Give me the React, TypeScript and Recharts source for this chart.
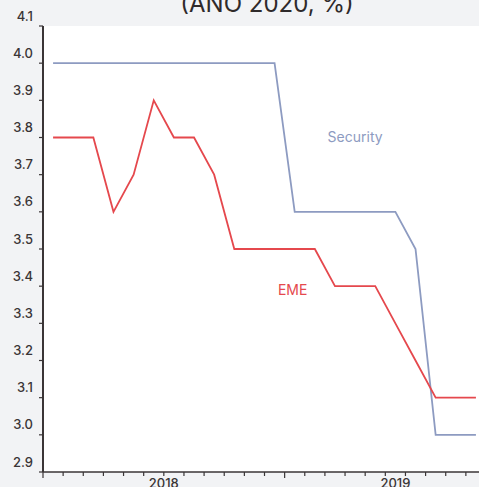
import React from "react";
import { LineChart, Line, XAxis, YAxis, CartesianGrid, ReferenceDot } from "recharts";

const months = [
  "2017-07", "2017-08", "2017-09", "2017-10", "2017-11", "2017-12",
  "2018-01", "2018-02", "2018-03", "2018-04", "2018-05", "2018-06",
  "2018-07", "2018-08", "2018-09", "2018-10", "2018-11", "2018-12",
  "2019-01", "2019-02", "2019-03", "2019-04",
];
const security = [4.0, 4.0, 4.0, 4.0, 4.0, 4.0, 4.0, 4.0, 4.0, 4.0, 4.0, 4.0, 3.6, 3.6, 3.6, 3.6, 3.6, 3.6, 3.5, 3.0, 3.0, 3.0];
const eme = [3.8, 3.8, 3.8, 3.6, 3.7, 3.9, 3.8, 3.8, 3.7, 3.5, 3.5, 3.5, 3.5, 3.5, 3.4, 3.4, 3.4, 3.3, 3.2, 3.1, 3.1, 3.1];
const yTicks = [2.9, 3.0, 3.1, 3.2, 3.3, 3.4, 3.5, 3.6, 3.7, 3.8, 3.9, 4.0, 4.1];
const yearLabels: Record<number, string> = { 6: "2018", 18: "2019" };

const data = months.map((m, i) => ({ month: m, x: i + 0.5, security: security[i], eme: eme[i] }));
const xTicks = months.map((_, i) => i).concat(months.length);

const FONT = "Inter, 'Open Sans', sans-serif";
const AXIS = "#3a3536";
const BG = "#f2f3f5";
const SEC = "#8d9bc1";
const RED = "#e5484d";

function YTick(props: any) {
  const { x, y, payload } = props;
  return (
    <text x={x - 6} y={y - 10} dy="0.35em" textAnchor="end" fontSize={13} fontWeight={500} fill={AXIS} fontFamily={FONT}>
      {Number(payload.value).toFixed(1)}
    </text>
  );
}

function XTick(props: any) {
  const { x, y, payload } = props;
  const k = payload.value;
  const len = k % 12 === 0 ? 6 : 4;
  // the 2019 label sits a little left of its tick in the original
  const shift = k === 18 ? -10 : 0;
  return (
    <g>
      <line x1={x} x2={x} y1={y} y2={y + len} stroke={AXIS} strokeWidth={1.2} />
      {yearLabels[k] && (
        <text x={x + shift} y={y + 16} textAnchor="middle" fontSize={13} fontWeight={500} fill={AXIS} fontFamily={FONT}>
          {yearLabels[k]}
        </text>
      )}
    </g>
  );
}

export default function App() {
  return (
    <div style={{ position: "absolute", left: 0, top: 0, width: 479, height: 487, overflow: "hidden", background: BG }}>
      <div
        style={{
          position: "absolute",
          left: 0,
          width: 534,
          top: -10,
          textAlign: "center",
          fontFamily: FONT,
          fontSize: 24,
          lineHeight: "28px",
          color: "#2f2a2b",
        }}
      >
        (ANO 2020, %)
      </div>
      <LineChart width={490} height={487} data={data} margin={{ top: 26, right: 4, bottom: 0, left: 0 }}>
        <CartesianGrid horizontal={false} vertical={false} fill="#ffffff" />
        <XAxis
          dataKey="x"
          type="number"
          domain={[0, 22]}
          ticks={xTicks}
          interval={0}
          height={15}
          tickLine={false}
          tickSize={0}
          tickMargin={0}
          tick={<XTick />}
          axisLine={{ stroke: AXIS, strokeWidth: 1.5 }}
        />
        <YAxis
          type="number"
          domain={[2.9, 4.1]}
          ticks={yTicks}
          interval={0}
          width={43}
          tickSize={4}
          tickMargin={0}
          tickLine={{ stroke: AXIS, strokeWidth: 1.2 }}
          tick={<YTick />}
          axisLine={{ stroke: AXIS, strokeWidth: 2 }}
        />
        <Line type="linear" dataKey="security" stroke={SEC} strokeWidth={1.8} dot={false} isAnimationActive={false} />
        <Line type="linear" dataKey="eme" stroke={RED} strokeWidth={1.8} dot={false} isAnimationActive={false} />
        <ReferenceDot
          x={15.5}
          y={3.8}
          r={0}
          fill="none"
          stroke="none"
          label={{ value: "Security", position: "center", fill: SEC, fontSize: 14, fontFamily: FONT }}
        />
        <ReferenceDot
          x={12.4}
          y={3.39}
          r={0}
          fill="none"
          stroke="none"
          label={{ value: "EME", position: "center", fill: RED, fontSize: 14, fontFamily: FONT }}
        />
      </LineChart>
    </div>
  );
}
